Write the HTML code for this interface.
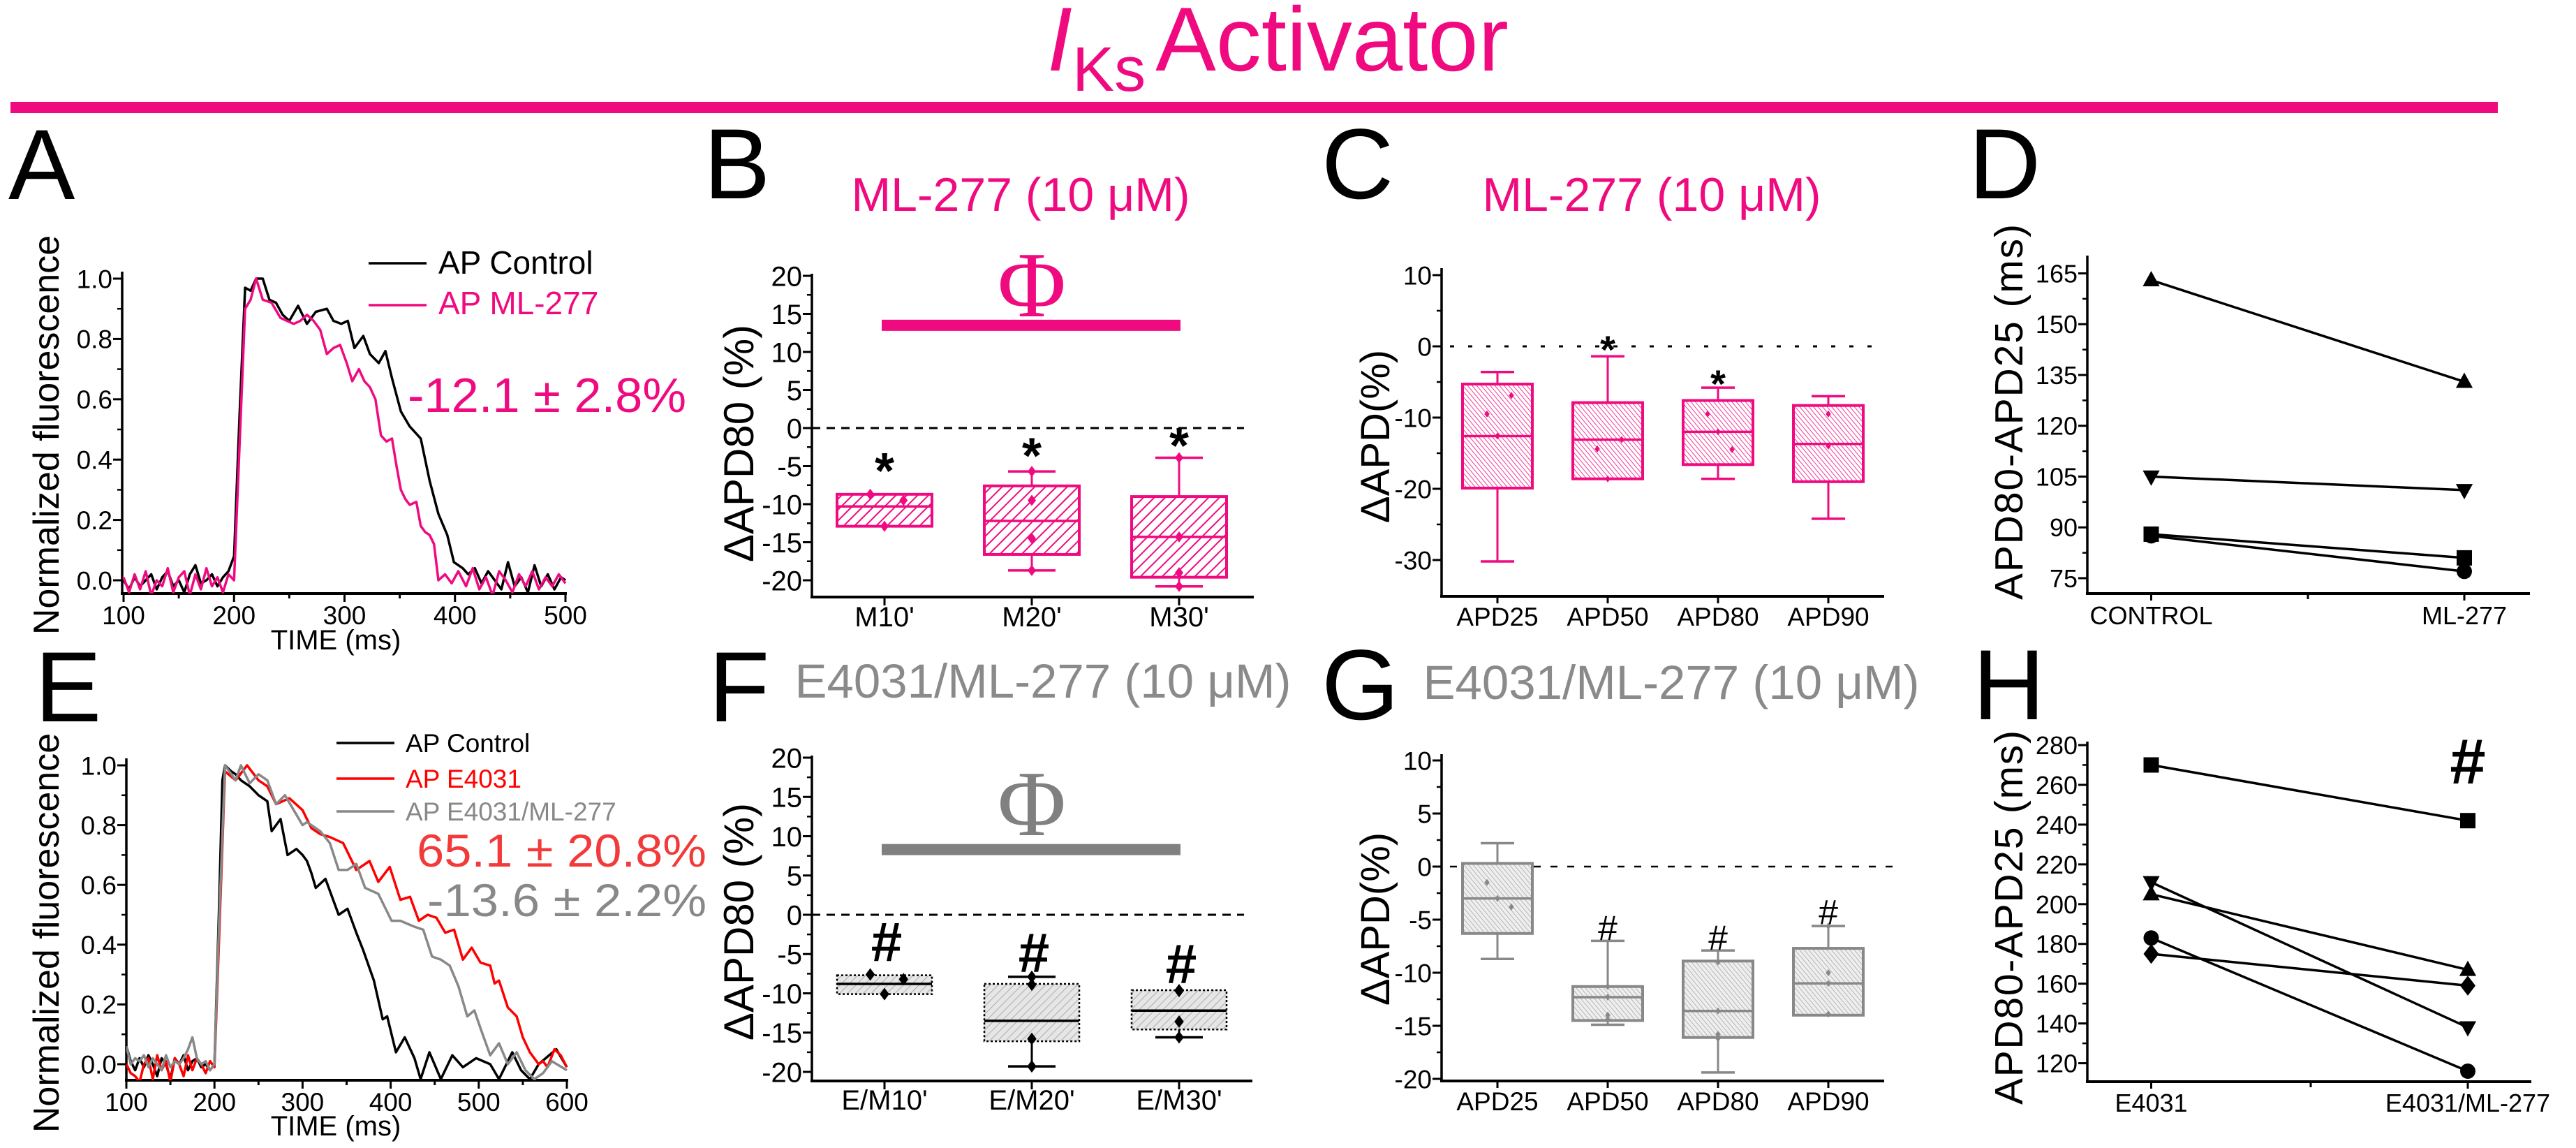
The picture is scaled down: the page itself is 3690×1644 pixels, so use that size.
<!DOCTYPE html>
<html><head><meta charset="utf-8"><style>
html,body{margin:0;padding:0;background:#fff;}
svg{display:block;font-family:"Liberation Sans",Arial,sans-serif;}
</style></head><body>
<svg id="fig" xmlns="http://www.w3.org/2000/svg" width="3690" height="1644" viewBox="0 0 3690 1644">
<defs>
<pattern id="hatchPink" patternUnits="userSpaceOnUse" width="11" height="11" patternTransform="rotate(45)"><rect width="11" height="11" fill="#fff"/><line x1="0" y1="0" x2="0" y2="11" stroke="#f00a80" stroke-width="4"/></pattern>
<pattern id="hatchPinkFine" patternUnits="userSpaceOnUse" width="5" height="5" patternTransform="rotate(-40)"><rect width="5" height="5" fill="#fff"/><line x1="0" y1="0" x2="0" y2="5" stroke="#f00a80" stroke-width="1.6"/></pattern>
<pattern id="hatchGray" patternUnits="userSpaceOnUse" width="8" height="8" patternTransform="rotate(45)"><rect width="8" height="8" fill="#e6e6e6"/><line x1="0" y1="0" x2="0" y2="8" stroke="#9a9a9a" stroke-width="1.5"/></pattern>
<pattern id="hatchGrayFine" patternUnits="userSpaceOnUse" width="5" height="5" patternTransform="rotate(-40)"><rect width="5" height="5" fill="#eeeeee"/><line x1="0" y1="0" x2="0" y2="5" stroke="#9a9a9a" stroke-width="1.3"/></pattern>
<clipPath id="clipA"><rect x="175" y="385" width="640" height="465"/></clipPath>
<clipPath id="clipE"><rect x="181" y="1080" width="636" height="467"/></clipPath>
</defs>
<text x="1500" y="101" font-size="130" fill="#f00a80"><tspan font-style="italic">I</tspan><tspan font-size="90" dy="29">Ks</tspan><tspan dy="-29" dx="14">Activator</tspan></text>
<rect x="15" y="146" width="3563" height="16" fill="#f00a80"/>
<g id="root"></g>
</svg>
<script>
// ===== Panel A data =====
const aCtrlT=[100,105,110,115,120,125,130,135,140,145,150,155,160,165,170,175,180,185,190,195,200,205,210,215,220,226,232,238,244,250,258,266,274,284,290,297,303,309,317,323,331,337,343,351,359,369,377,385,393,399,407,412,418,424,430,436,442,448,454,460,466,472,478,484,490,496,500];
const aCtrlV=[0.0,-0.03,0.01,-0.02,0.0,0.02,-0.03,0.01,0.03,-0.02,0.0,-0.04,0.02,0.05,-0.01,0.0,0.02,-0.02,0.01,0.03,0.08,0.55,0.97,0.96,1.0,1.0,0.93,0.92,0.88,0.86,0.91,0.85,0.89,0.9,0.86,0.85,0.86,0.77,0.81,0.75,0.72,0.76,0.67,0.56,0.51,0.47,0.33,0.22,0.15,0.06,0.04,0.02,0.04,-0.01,0.03,0.0,-0.03,0.06,-0.02,0.01,-0.04,0.05,-0.02,0.02,-0.03,0.01,0.0];
const aMlT=[100,105,110,115,120,125,130,135,140,145,150,155,160,165,170,175,180,185,190,195,200,205,210,215,220,226,234,242,248,254,260,266,272,278,284,290,296,302,307,313,318,323,328,333,338,343,347,351,355,359,365,369,373,377,381,385,391,397,403,410,416,422,428,434,440,446,452,458,464,470,476,482,488,494,500];
const aMlV=[0.01,-0.04,0.02,-0.03,0.03,-0.05,0.0,-0.02,0.04,-0.04,0.01,0.03,-0.05,0.02,-0.03,0.04,-0.02,0.01,-0.04,0.02,0.0,0.45,0.9,0.93,1.0,0.93,0.92,0.87,0.86,0.85,0.86,0.88,0.86,0.83,0.75,0.77,0.78,0.72,0.66,0.70,0.66,0.64,0.6,0.48,0.46,0.47,0.38,0.3,0.27,0.25,0.26,0.18,0.16,0.15,0.12,0.0,0.02,-0.01,0.03,-0.02,0.04,-0.03,0.01,-0.05,0.03,0.0,-0.04,0.02,-0.02,0.03,-0.03,0.01,-0.02,0.02,-0.01];
const aYTicks=[0,0.2,0.4,0.6,0.8,1.0];
const aXTicks=[100,200,300,400,500];
// ===== Panel E data =====
const eCtrlT=[100,105,110,115,120,125,130,135,140,145,150,155,160,165,170,175,180,185,190,195,200,205,209,212,219,224,230,240,250,260,265,270,275,283,293,300,305,310,315,326,341,351,361,369,381,391,396,406,416,427,434,444,457,470,482,497,513,523,538,548,558,568,588,600];
const eCtrlV=[0.06,0.01,-0.02,0.02,-0.01,0.03,0.0,-0.04,0.02,0.0,-0.05,0.02,0.0,0.03,-0.02,0.01,0.02,-0.01,0.0,-0.02,0.0,0.5,0.95,1.0,0.98,0.97,0.95,0.93,0.9,0.88,0.78,0.8,0.82,0.7,0.72,0.7,0.68,0.64,0.59,0.62,0.5,0.52,0.44,0.38,0.28,0.15,0.16,0.04,0.09,0.02,-0.05,0.04,-0.05,0.03,-0.01,0.02,0.0,-0.05,0.04,-0.02,-0.05,0.0,0.05,-0.01];
const eE4031T=[100,105,110,115,120,125,130,135,140,145,150,155,160,165,170,175,180,185,190,195,200,205,212,224,237,250,260,270,285,300,310,320,331,346,361,376,386,399,411,422,432,442,452,462,472,482,492,502,513,518,523,533,543,550,558,568,573,578,586,593,600];
const eE4031V=[0.0,-0.03,-0.04,-0.06,0.0,0.02,-0.05,0.03,-0.02,0.01,-0.06,0.02,0.0,-0.04,0.03,-0.02,0.02,0.0,-0.03,0.01,-0.01,0.4,0.98,0.95,1.0,0.95,0.93,0.87,0.89,0.85,0.79,0.77,0.76,0.74,0.65,0.68,0.61,0.66,0.55,0.56,0.48,0.5,0.49,0.44,0.45,0.35,0.39,0.34,0.33,0.27,0.28,0.19,0.16,0.09,0.04,0.0,0.01,-0.01,0.05,0.03,-0.01];
const eMixT=[100,105,110,115,120,125,130,135,140,145,150,155,160,165,170,175,180,185,190,195,200,205,212,224,230,240,250,260,270,280,290,300,305,310,320,331,341,351,361,371,386,401,411,427,437,447,457,467,477,487,495,502,513,523,533,543,553,563,573,583,600];
const eMixV=[0.06,0.0,0.02,0.01,0.03,-0.01,0.02,0.0,-0.02,0.03,-0.01,0.01,0.0,0.02,0.05,0.09,0.02,0.0,0.01,-0.02,0.0,0.45,1.0,0.95,1.0,0.94,0.97,0.95,0.87,0.9,0.85,0.8,0.81,0.8,0.78,0.74,0.65,0.65,0.67,0.59,0.57,0.48,0.48,0.46,0.45,0.36,0.35,0.33,0.26,0.16,0.18,0.12,0.03,0.07,0.0,0.04,-0.02,-0.05,-0.03,0.01,-0.02];
const eXTicks=[100,200,300,400,500,600];
// ===== Panel B data =====
const bCats=["M10'","M20'","M30'"];
const bMed=[-10.3,-12.2,-14.3];
const bQ3=[-8.7,-7.6,-9.0];
const bQ1=[-12.9,-16.6,-19.6];
const bWHi=[-8.7,-5.7,-3.9];
const bWLo=[-12.9,-18.7,-20.8];
const bPts=[[-8.7,-9.5,-12.9],[-5.7,-9.5,-14.5,-18.7],[-3.9,-14.3,-19.0,-20.8]];
const bStar=[-4.5,-2.5,-1.2];
const bYTicks=[-20,-15,-10,-5,0,5,10,15,20];
const bBar=[13.5];
// ===== Panel F data =====
const fCats=["E/M10'","E/M20'","E/M30'"];
const fMed=[-8.8,-13.5,-12.2];
const fQ3=[-7.7,-8.8,-9.6];
const fQ1=[-10.1,-16.1,-14.6];
const fWHi=[-7.7,-7.9,-9.6];
const fWLo=[-10.1,-19.3,-15.6];
const fPts=[[-7.6,-8.2,-10.1],[-7.9,-8.9,-15.8,-19.3],[-9.6,-9.7,-13.6,-15.6]];
const fHash=[-3.4,-4.8,-6.2];
const fBar=[8.3];
// ===== Panel C data =====
const cCats=["APD25","APD50","APD80","APD90"];
const cMed=[-12.6,-13.1,-12.0,-13.7];
const cQ3=[-5.3,-7.9,-7.6,-8.3];
const cQ1=[-19.9,-18.6,-16.6,-19.0];
const cWHi=[-3.6,-1.4,-5.8,-7.0];
const cWLo=[-30.2,-18.6,-18.6,-24.2];
const cPts=[[-9.5,-6.9,-12.6],[-14.4,-13.1,-18.6],[-9.5,-14.5,-12.0],[-9.5,-14.0]];
const cStar=[null,0.5,-4.3,null];
const cYTicks=[-30,-20,-10,0,10];
// ===== Panel G data =====
const gCats=["APD25","APD50","APD80","APD90"];
const gMed=[-3.0,-12.3,-13.6,-11.0];
const gQ3=[0.3,-11.3,-8.9,-7.7];
const gQ1=[-6.3,-14.5,-16.1,-14.0];
const gWHi=[2.2,-7.0,-7.9,-5.6];
const gWLo=[-8.7,-14.9,-19.4,-14.0];
const gPts=[[-1.5,-3.8,-3.0],[-11.3,-14.0,-12.3,-14.4],[-9.0,-15.8,-16.2,-13.6],[-10.0,-11.0,-13.9,-5.6]];
const gHash=[null,-5.8,-6.7,-4.3];
const gYTicks=[-20,-15,-10,-5,0,5,10];
// ===== Panel D data =====
const dCats=["CONTROL","ML-277"];
const dTriUp=[163,133];
const dTriDown=[105,101];
const dSquare=[88,81];
const dCircle=[87.5,77];
const dYTicks=[75,90,105,120,135,150,165];
// ===== Panel H data =====
const hCats=["E4031","E4031/ML-277"];
const hSquare=[270,242];
const hTriUp=[205,167];
const hTriDown=[211,138];
const hDiamond=[175,159];
const hCircle=[183,116];
const hYTicks=[120,140,160,180,200,220,240,260,280];

const NS="http://www.w3.org/2000/svg";
const root=document.getElementById('root');
const PINK="#f00a80", GRAY="#8a8a8a";
function mk(tag,attrs,parent){const e=document.createElementNS(NS,tag);for(const k in attrs)e.setAttribute(k,attrs[k]);(parent||root).appendChild(e);return e;}
function lin(d0,d1,r0,r1){return v=>r0+(v-d0)*(r1-r0)/(d1-d0);}
function txt(s,x,y,fs,attrs,parent){const t=mk('text',Object.assign({x:x,y:y,'font-size':fs},attrs||{}),parent);t.textContent=s;return t;}
function label(s,x,y,fs,attrs,name){const t=txt(s,x,y,fs,attrs);return t;}

function yAxis(x,yTop,yBot,ticks,minorStep,sy,fs,fmt,name){
  const g=mk('g',{});
  
  
  mk('line',{x1:x,y1:yTop,x2:x,y2:yBot,stroke:'#000','stroke-width':3.5},g);
  const lo=ticks[0],hi=ticks[ticks.length-1];
  for(let v=lo;v<=hi+1e-9;v+=minorStep){const y=sy(v);if(y<yTop-1||y>yBot+1)continue;mk('line',{x1:x-7,y1:y,x2:x,y2:y,stroke:'#000','stroke-width':2.5},g);}
  ticks.forEach(v=>{const y=sy(v);mk('line',{x1:x-13,y1:y,x2:x,y2:y,stroke:'#000','stroke-width':3},g);
    const t=txt(fmt(v),x-14,y+fs*0.36,fs,{'text-anchor':'end'},g);
    
    });
}
function xAxisLine(x0,x1,y,name){const l=mk('line',{x1:x0,y1:y,x2:x1,y2:y,stroke:'#000','stroke-width':4});}
function xTick(x,y,len){mk('line',{x1:x,y1:y,x2:x,y2:y+len,stroke:'#000','stroke-width':3});}
function xLabel(s,x,y,fs){const t=txt(s,x,y,fs,{'text-anchor':'middle'});}

function trace(T,V,sx,sy,color,clip,name){
  const n=Math.min(T.length,V.length);let d='';
  for(let i=0;i<n;i++)d+=(i?'L':'M')+sx(T[i]).toFixed(1)+' '+sy(V[i]).toFixed(1);
  const p=mk('path',{d:d,fill:'none',stroke:color,'stroke-width':3.5,'stroke-linejoin':'round','clip-path':'url(#'+clip+')'});
  
  
}

// ================= Panel A =================
label('A',12,285,143,{},'panel-label-a');
(function(){
  const sx=lin(100,500,177,810), sy=lin(0,1,831,399);
  yAxis(175,389,850,aYTicks,0.1,sy,37,v=>v.toFixed(1),'y-axis-a');
  xAxisLine(173,812,850,'x-axis-a');
  for(let t=100;t<=500;t+=50)xTick(sx(t),850,t%100?7:12);
  aXTicks.forEach(t=>xLabel(String(t),sx(t),894,37));
  label('TIME (ms)',481,930,40,{'text-anchor':'middle'},'x-axis-title-a');
  label('Normalized fluorescence',0,0,52,{'text-anchor':'middle',transform:'translate(84,623) rotate(-90)'},'y-axis-title-a');
  trace(aCtrlT,aCtrlV,sx,sy,'#000','clipA','trace-ap-control');
  trace(aMlT,aMlV,sx,sy,PINK,'clipA','trace-ap-ml277');
  const l1=mk('line',{x1:528,y1:377,x2:611,y2:377,stroke:'#000','stroke-width':3.5});
  
  
  label('AP Control',628,392,46,{},'legend-label-control');
  const l2=mk('line',{x1:528,y1:437,x2:611,y2:437,stroke:PINK,'stroke-width':3.5});
  
  
  label('AP ML-277',628,450,46,{fill:PINK},'legend-label-ml277');
  label('-12.1 ± 2.8%',584,590,70,{fill:PINK,textLength:399,lengthAdjust:'spacingAndGlyphs'},'annotation-a-change');
})();

// ================= Panel E =================
label('E',50,1033,143,{},'panel-label-e');
(function(){
  const sx=lin(100,600,181,812), sy=lin(0,1,1524,1096);
  yAxis(181,1086,1547,aYTicks,0.1,sy,37,v=>v.toFixed(1),'y-axis-e');
  xAxisLine(179,814,1547,'x-axis-e');
  for(let t=100;t<=600;t+=50)xTick(sx(t),1547,t%100?7:12);
  eXTicks.forEach(t=>xLabel(String(t),sx(t),1591,37));
  label('TIME (ms)',481,1626,40,{'text-anchor':'middle'},'x-axis-title-e');
  label('Normalized fluorescence',0,0,52,{'text-anchor':'middle',transform:'translate(84,1336) rotate(-90)'},'y-axis-title-e');
  trace(eCtrlT,eCtrlV,sx,sy,'#000','clipE','trace-e-ap-control');
  trace(eE4031T,eE4031V,sx,sy,'#ff0000','clipE','trace-e-ap-e4031');
  trace(eMixT,eMixV,sx,sy,'#888','clipE','trace-e-ap-e4031-ml277');
  const sw=[['#000',1064,'AP Control','#000',1077,'control'],['#ff0000',1115,'AP E4031','#ff0000',1128,'e4031'],['#888',1162,'AP E4031/ML-277','#888',1175,'e4031-ml277']];
  sw.forEach(s=>{const l=mk('line',{x1:482,y1:s[1],x2:565,y2:s[1],stroke:s[0],'stroke-width':3.5});
    
    
    label(s[2],581,s[4],37,{fill:s[3]},'legend-label-'+s[5]);});
  label('65.1 ± 20.8%',597,1241,66,{fill:'#f23a3a',textLength:415,lengthAdjust:'spacingAndGlyphs'},'annotation-e-e4031');
  label('-13.6 ± 2.2%',612,1312,66,{fill:'#888',textLength:400,lengthAdjust:'spacingAndGlyphs'},'annotation-e-mix');
})();

// ================= box plot helper =================
function boxPanel(o){
  const {cats,med,q3,q1,whi,wlo,pts,sx,sy,hw,cap,stroke,fill,dotted,ptColor,ptSize,prefix}=o;
  cats.forEach((c,i)=>{
    const x=sx(i);
    const g=mk('g',{});
    
    
    // whiskers
    if(whi[i]>q3[i]+0.01){mk('line',{x1:x,y1:sy(q3[i]),x2:x,y2:sy(whi[i]),stroke:stroke,'stroke-width':3},g);mk('line',{x1:x-cap,y1:sy(whi[i]),x2:x+cap,y2:sy(whi[i]),stroke:stroke,'stroke-width':3.5},g);}
    if(wlo[i]<q1[i]-0.01){mk('line',{x1:x,y1:sy(q1[i]),x2:x,y2:sy(wlo[i]),stroke:stroke,'stroke-width':3},g);mk('line',{x1:x-cap,y1:sy(wlo[i]),x2:x+cap,y2:sy(wlo[i]),stroke:stroke,'stroke-width':3.5},g);}
    const r=mk('rect',{x:x-hw,y:sy(q3[i]),width:2*hw,height:sy(q1[i])-sy(q3[i]),fill:fill,stroke:stroke,'stroke-width':dotted?2.5:4},g);
    if(dotted)r.setAttribute('stroke-dasharray','3 3');
    mk('line',{x1:x-hw,y1:sy(med[i]),x2:x+hw,y2:sy(med[i]),stroke:stroke,'stroke-width':3.5},g);
    const n=pts[i].length;
    pts[i].forEach((v,j)=>{
      const off=(n===3&&j<2)?(j===0?-0.3:0.4)*hw:0;
      const px=x+off, py=sy(v), s=ptSize;
      const p=mk('path',{d:`M${px} ${py-s}L${px+s*0.75} ${py}L${px} ${py+s}L${px-s*0.75} ${py}Z`,fill:ptColor},g);
      
      
    });
  });
}

// ================= Panel B =================
label('B',1008,284,143,{},'panel-label-b');
label('ML-277 (10 μM)',1462,302,68,{fill:PINK,'text-anchor':'middle'},'panel-b-title');
(function(){
  const sy=lin(0,20,613,395), sx=i=>1267+i*211;
  yAxis(1163,392,855,bYTicks,2.5,sy,40,v=>String(v),'y-axis-b');
  xAxisLine(1161,1796,855,'x-axis-b');
  bCats.forEach((c,i)=>{xTick(sx(i),855,12);xLabel(c,sx(i),897,40);});
  label('ΔAPD80 (%)',0,0,60,{'text-anchor':'middle',transform:'translate(1079,635) rotate(-90)'},'y-axis-title-b');
  const d=mk('line',{x1:1163,y1:sy(0),x2:1782,y2:sy(0),stroke:'#000','stroke-width':3,'stroke-dasharray':'12 9'});
  
  
  const bar=mk('rect',{x:1263,y:sy(bBar[0])-8,width:428,height:16,fill:PINK});
  
  
  label('Φ',1478,453,134,{fill:PINK,'text-anchor':'middle','font-family':'"Liberation Serif",serif'},'phi-symbol-b');
  boxPanel({cats:bCats,med:bMed,q3:bQ3,q1:bQ1,whi:bWHi,wlo:bWLo,pts:bPts,sx:sx,sy:sy,hw:68,cap:34,stroke:PINK,fill:'url(#hatchPink)',dotted:false,ptColor:PINK,ptSize:8,prefix:'b'});
  bStar.forEach((v,i)=>label('*',sx(i),sy(v)+37,72,{'text-anchor':'middle','font-weight':'bold'},'significance-star'));
})();

// ================= Panel F =================
label('F',1015,1033,143,{},'panel-label-f');
label('E4031/ML-277 (10 μM)',1494,999,69,{fill:GRAY,'text-anchor':'middle'},'panel-f-title');
(function(){
  const sy=lin(0,20,1310,1085), sx=i=>1267+i*211;
  yAxis(1163,1082,1548,bYTicks,2.5,sy,40,v=>String(v),'y-axis-f');
  xAxisLine(1161,1794,1548,'x-axis-f');
  fCats.forEach((c,i)=>{xTick(sx(i),1548,12);xLabel(c,sx(i),1589,40);});
  label('ΔAPD80 (%)',0,0,60,{'text-anchor':'middle',transform:'translate(1079,1320) rotate(-90)'},'y-axis-title-f');
  const d=mk('line',{x1:1163,y1:sy(0),x2:1782,y2:sy(0),stroke:'#000','stroke-width':3,'stroke-dasharray':'12 9'});
  
  
  const bar=mk('rect',{x:1263,y:sy(fBar[0])-8,width:428,height:16,fill:'#808080'});
  
  
  label('Φ',1478,1196,134,{fill:'#808080','text-anchor':'middle','font-family':'"Liberation Serif",serif'},'phi-symbol-f');
  boxPanel({cats:fCats,med:fMed,q3:fQ3,q1:fQ1,whi:fWHi,wlo:fWLo,pts:fPts,sx:sx,sy:sy,hw:68,cap:34,stroke:'#000',fill:'url(#hatchGray)',dotted:true,ptColor:'#000',ptSize:9,prefix:'f'});
  fHash.forEach((v,i)=>label('#',sx(i)+3,sy(v)+28,80,{'text-anchor':'middle','font-weight':'bold'},'significance-hash'));
})();

// ================= Panel C =================
label('C',1893,284,143,{},'panel-label-c');
label('ML-277 (10 μM)',2366,302,68,{fill:PINK,'text-anchor':'middle'},'panel-c-title');
(function(){
  const sy=lin(0,10,496,394), sx=i=>2145+i*158;
  yAxis(2065,384,854,cYTicks,5,sy,37,v=>String(v),'y-axis-c');
  xAxisLine(2063,2699,854,'x-axis-c');
  cCats.forEach((c,i)=>{xTick(sx(i),854,10);xLabel(c,sx(i),896,37);});
  label('ΔAPD(%)',0,0,58,{'text-anchor':'middle',transform:'translate(1990,625) rotate(-90)'},'y-axis-title-c');
  const d=mk('line',{x1:2077,y1:sy(0),x2:2699,y2:sy(0),stroke:'#000','stroke-width':3,'stroke-dasharray':'6 20'});
  
  
  boxPanel({cats:cCats,med:cMed,q3:cQ3,q1:cQ1,whi:cWHi,wlo:cWLo,pts:cPts,sx:sx,sy:sy,hw:50,cap:24,stroke:PINK,fill:'url(#hatchPinkFine)',dotted:false,ptColor:PINK,ptSize:5,prefix:'c'});
  cStar.forEach((v,i)=>{if(v!==null)label('*',sx(i),sy(v)+29,56,{'text-anchor':'middle','font-weight':'bold'},'significance-star');});
})();

// ================= Panel G =================
label('G',1893,1030,143,{},'panel-label-g');
label('E4031/ML-277 (10 μM)',2394,1001,69,{fill:GRAY,'text-anchor':'middle'},'panel-g-title');
(function(){
  const sy=lin(0,10,1241,1089), sx=i=>2145+i*158;
  yAxis(2065,1080,1548,gYTicks,2.5,sy,37,v=>String(v),'y-axis-g');
  xAxisLine(2063,2699,1548,'x-axis-g');
  gCats.forEach((c,i)=>{xTick(sx(i),1548,10);xLabel(c,sx(i),1590,37);});
  label('ΔAPD(%)',0,0,58,{'text-anchor':'middle',transform:'translate(1990,1316) rotate(-90)'},'y-axis-title-g');
  const d=mk('line',{x1:2077,y1:sy(0),x2:2716,y2:sy(0),stroke:'#000','stroke-width':2.5,'stroke-dasharray':'10 14'});
  
  
  boxPanel({cats:gCats,med:gMed,q3:gQ3,q1:gQ1,whi:gWHi,wlo:gWLo,pts:gPts,sx:sx,sy:sy,hw:50,cap:24,stroke:'#888',fill:'url(#hatchGrayFine)',dotted:false,ptColor:'#888',ptSize:5,prefix:'g'});
  gHash.forEach((v,i)=>{if(v!==null)label('#',sx(i),sy(v)+17,50,{'text-anchor':'middle'},'significance-hash');});
})();

// ================= paired plots =================
function marker(shape,x,y,s,parent){
  let e;
  if(shape==='square')e=mk('rect',{x:x-s,y:y-s,width:2*s,height:2*s,fill:'#000'},parent);
  else if(shape==='circle')e=mk('circle',{cx:x,cy:y,r:s,fill:'#000'},parent);
  else if(shape==='triUp')e=mk('path',{d:`M${x} ${y-s*1.2}L${x+s*1.1} ${y+s*0.8}L${x-s*1.1} ${y+s*0.8}Z`,fill:'#000'},parent);
  else if(shape==='triDown')e=mk('path',{d:`M${x} ${y+s*1.2}L${x+s*1.1} ${y-s*0.8}L${x-s*1.1} ${y-s*0.8}Z`,fill:'#000'},parent);
  else e=mk('path',{d:`M${x} ${y-s*1.3}L${x+s*1.0} ${y}L${x} ${y+s*1.3}L${x-s*1.0} ${y}Z`,fill:'#000'},parent);
  
  
}
function pairSeries(vals,shape,sx,sy,name){
  const g=mk('g',{});
  
  
  mk('line',{x1:sx(0),y1:sy(vals[0]),x2:sx(1),y2:sy(vals[1]),stroke:'#000','stroke-width':3.5},g);
  vals.forEach((v,i)=>marker(shape,sx(i),sy(v),11,g));
}

// ================= Panel D =================
label('D',2820,284,143,{},'panel-label-d');
(function(){
  const sy=lin(75,165,828,391.5), sx=i=>3081.5+i*448.5;
  yAxis(2990,366,850,dYTicks,7.5,sy,36,v=>String(v),'y-axis-d');
  xAxisLine(2988,3624,850,'x-axis-d');
  dCats.forEach((c,i)=>{xTick(sx(i),850,10);xLabel(c,sx(i),894,36);});
  xTick(3306,850,8);
  label('APD80-APD25 (ms)',0,0,57,{'text-anchor':'middle',transform:'translate(2897,590) rotate(-90)',textLength:538,lengthAdjust:'spacing'},'y-axis-title-d');
  pairSeries(dTriUp,'triUp',sx,sy,'series-d-triangle-up');
  pairSeries(dTriDown,'triDown',sx,sy,'series-d-triangle-down');
  pairSeries(dSquare,'square',sx,sy,'series-d-square');
  pairSeries(dCircle,'circle',sx,sy,'series-d-circle');
})();

// ================= Panel H =================
label('H',2826,1030,143,{},'panel-label-h');
(function(){
  const sy=lin(120,280,1522.6,1067), sx=i=>3081.5+i*453.5;
  yAxis(2990,1062,1549,hYTicks,10,sy,36,v=>String(v),'y-axis-h');
  xAxisLine(2988,3626,1549,'x-axis-h');
  hCats.forEach((c,i)=>{xTick(sx(i),1549,10);xLabel(c,sx(i),1592,36);});
  xTick(3310,1549,8);
  label('APD80-APD25 (ms)',0,0,57,{'text-anchor':'middle',transform:'translate(2897,1314) rotate(-90)',textLength:536,lengthAdjust:'spacing'},'y-axis-title-h');
  pairSeries(hSquare,'square',sx,sy,'series-h-square');
  pairSeries(hTriUp,'triUp',sx,sy,'series-h-triangle-up');
  pairSeries(hTriDown,'triDown',sx,sy,'series-h-triangle-down');
  pairSeries(hDiamond,'diamond',sx,sy,'series-h-diamond');
  pairSeries(hCircle,'circle',sx,sy,'series-h-circle');
  label('#',3535,1122,92,{'text-anchor':'middle','font-weight':'bold'},'significance-hash-h');
})();
</script>
</body></html>
